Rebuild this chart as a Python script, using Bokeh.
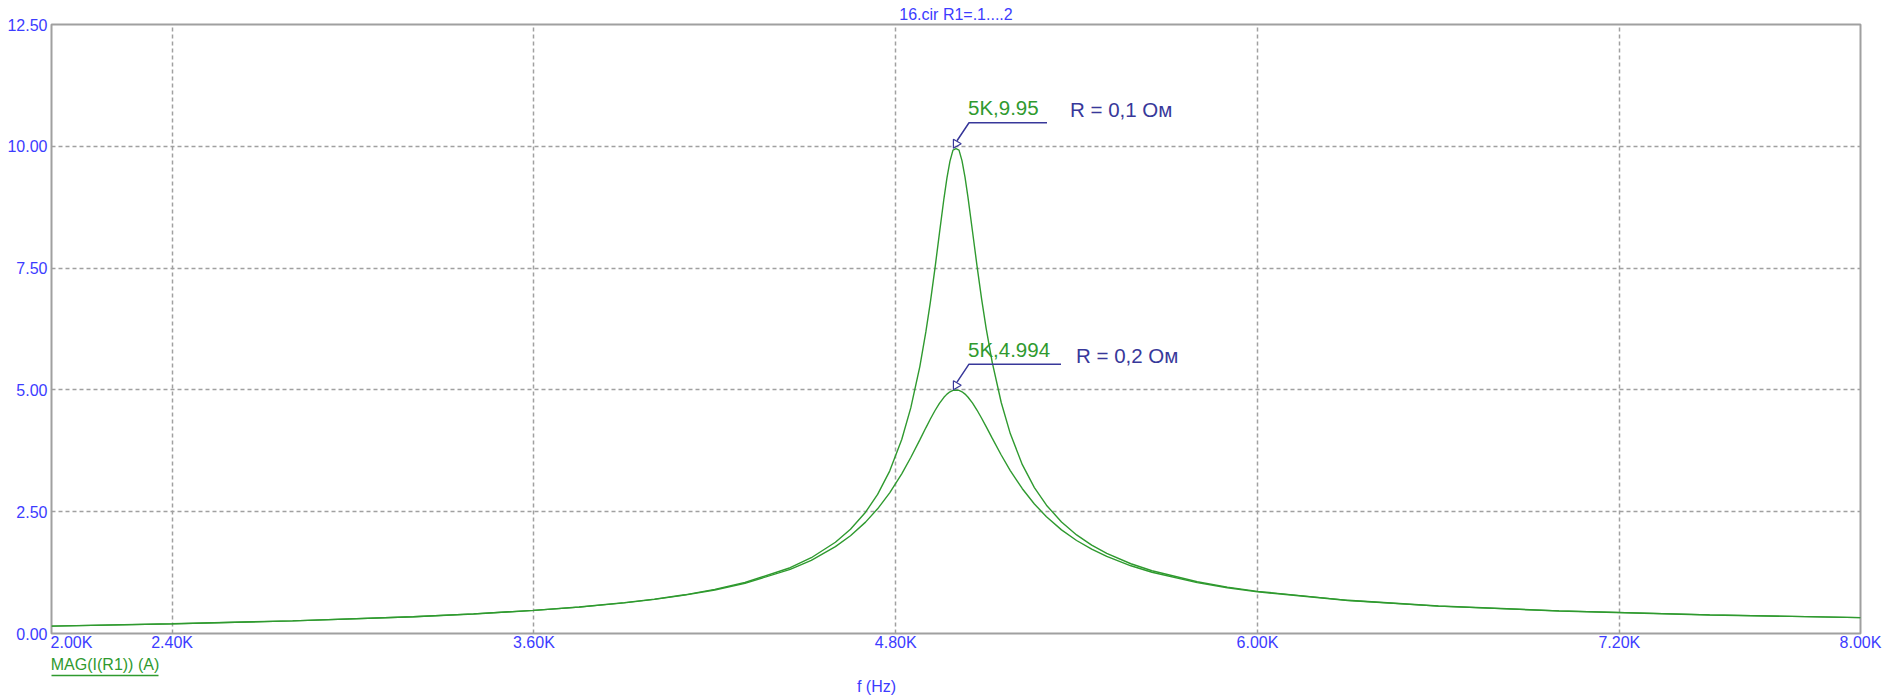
from bokeh.plotting import figure
from bokeh.models import Range1d, FixedTicker, Label, LinearAxis
from bokeh.embed import file_html
from bokeh.resources import INLINE

# ---------------- data ----------------
freq_hz = [2000, 2400, 2800, 3200, 3400, 3600, 3750, 3900, 4000, 4100,
           4200, 4300, 4450, 4520, 4600, 4650, 4700, 4740, 4780, 4820,
           4850, 4880, 4900, 4915, 4930, 4945, 4960, 4970, 4980, 4990,
           5000, 5010, 5020, 5030, 5040, 5055, 5070, 5085, 5100, 5120,
           5150, 5180, 5220, 5260, 5300, 5350, 5400, 5450, 5500, 5580,
           5650, 5800, 5900, 6000, 6300, 6600, 7000, 7500, 8000]
i_r01 = [0.152, 0.199, 0.260, 0.345, 0.402, 0.475, 0.545, 0.633, 0.706, 0.794,
         0.905, 1.046, 1.350, 1.555, 1.873, 2.140, 2.490, 2.855, 3.334, 3.981,
         4.631, 5.479, 6.189, 6.802, 7.485, 8.212, 8.928, 9.353, 9.697, 9.922,
         9.950, 9.922, 9.700, 9.361, 8.941, 8.241, 7.532, 6.864, 6.265, 5.572,
         4.741, 4.103, 3.466, 2.995, 2.633, 2.288, 2.023, 1.814, 1.645, 1.432,
         1.288, 1.062, 0.953, 0.865, 0.681, 0.565, 0.464, 0.382, 0.326]
i_r02 = [0.152, 0.198, 0.259, 0.344, 0.401, 0.474, 0.542, 0.629, 0.700, 0.787,
         0.894, 1.029, 1.315, 1.502, 1.782, 2.007, 2.286, 2.559, 2.887, 3.278,
         3.612, 3.974, 4.222, 4.402, 4.572, 4.723, 4.848, 4.913, 4.961, 4.990,
         4.994, 4.990, 4.961, 4.914, 4.850, 4.729, 4.582, 4.418, 4.246, 4.009,
         3.664, 3.345, 2.972, 2.658, 2.396, 2.127, 1.909, 1.731, 1.582, 1.390,
         1.257, 1.045, 0.940, 0.855, 0.676, 0.562, 0.462, 0.381, 0.326]

peak_freq = [5000, 5000]
peak_val = [9.95, 4.994]
peak_text = ["5K,9.95", "5K,4.994"]
r_text = ["R = 0,1 Ом", "R = 0,2 Ом"]

x_ticks = [2000, 2400, 3600, 4800, 6000, 7200, 8000]
x_tick_labels = ["2.00K", "2.40K", "3.60K", "4.80K", "6.00K", "7.20K", "8.00K"]
y_ticks = [0, 2.5, 5, 7.5, 10, 12.5]
y_tick_labels = ["0.00", "2.50", "5.00", "7.50", "10.00", "12.50"]

title_text = "16.cir R1=.1....2"
y_title = "MAG(I(R1)) (A)"
x_title = "f (Hz)"

# ---------------- style ----------------
FONT = "Liberation Sans"
BLUE = "#3c3cff"
GREEN = "#2f9a2f"
NAVY = "#38389a"
GRAY = "#a0a0a0"
FS = "16px"
NBSP = "\u00a0"

W, H = 1903, 699
ML, MR, MT, MB = 51, 43, 24, 66
FW, FH = W - ML - MR, H - MT - MB

p = figure(width=W, height=H, output_backend="svg", toolbar_location=None,
           x_range=Range1d(x_ticks[0], x_ticks[-1]),
           y_range=Range1d(y_ticks[0], y_ticks[-1]),
           min_border_left=ML, min_border_right=MR,
           min_border_top=MT, min_border_bottom=MB)
p.background_fill_color = "white"
p.border_fill_color = "white"
p.outline_line_color = GRAY
p.outline_line_width = 2

# title
p.title.text = title_text
p.title.align = "center"
p.title.text_font = FONT
p.title.text_font_size = FS
p.title.text_font_style = "normal"
p.title.text_color = BLUE
p.title.standoff = 4
p.title.offset = 0

px_x = (x_ticks[-1] - x_ticks[0]) / FW
px_y = (y_ticks[-1] - y_ticks[0]) / FH

# positions (screen px from the frame's left edge) of the two axis captions
Y_TITLE_CENTER_PX = 53.5
X_TITLE_CENTER_PX = 825
UNDERLINE_PX = 107


def quiet(ax):
    ax.axis_line_color = None
    ax.major_tick_line_color = None
    ax.minor_tick_line_color = None
    ax.major_tick_out = 0
    ax.major_tick_in = 0
    ax.minor_tick_out = 0
    ax.minor_tick_in = 0
    ax.major_label_text_font = FONT
    ax.major_label_text_font_size = FS


# tick-label axes
p.xaxis.ticker = FixedTicker(ticks=x_ticks)
overrides = {t: l for t, l in zip(x_ticks, x_tick_labels)}
overrides[x_ticks[0]] = NBSP * 9 + x_tick_labels[0]
p.xaxis.major_label_overrides = overrides
p.yaxis.ticker = FixedTicker(ticks=y_ticks)
p.yaxis.major_label_overrides = {t: l for t, l in zip(y_ticks, y_tick_labels)}
for ax in (p.xaxis, p.yaxis):
    quiet(ax)
    ax.major_label_text_color = BLUE
p.xaxis.major_label_standoff = 0
p.yaxis.major_label_standoff = 4

# caption row 1: series name (green, underlined)
y_pos = x_ticks[0] + Y_TITLE_CENTER_PX * px_x
ax_mag = LinearAxis(ticker=FixedTicker(ticks=[y_pos]),
                    major_label_overrides={y_pos: y_title})
quiet(ax_mag)
ax_mag.major_label_text_color = GREEN
ax_mag.major_label_standoff = 2
p.add_layout(ax_mag, "below")

# underline (axis rule only)
ax_ul = LinearAxis(ticker=FixedTicker(ticks=[]),
                   bounds=(x_ticks[0], x_ticks[0] + UNDERLINE_PX * px_x))
quiet(ax_ul)
ax_ul.axis_line_color = GREEN
ax_ul.axis_line_width = 1.5
ax_ul.major_label_standoff = 0
p.add_layout(ax_ul, "below")

# caption row 2: x variable
x_pos = x_ticks[0] + X_TITLE_CENTER_PX * px_x
ax_f = LinearAxis(ticker=FixedTicker(ticks=[x_pos]),
                  major_label_overrides={x_pos: x_title})
quiet(ax_f)
ax_f.major_label_text_color = BLUE
ax_f.major_label_standoff = 2
p.add_layout(ax_f, "below")

# grid
p.xgrid.ticker = FixedTicker(ticks=x_ticks[1:-1])
p.ygrid.ticker = FixedTicker(ticks=y_ticks[1:-1])
for g in (p.xgrid, p.ygrid):
    g.grid_line_color = GRAY
    g.grid_line_dash = "4 3"
    g.grid_line_width = 1.5

# curves
p.line(freq_hz, i_r01, line_color=GREEN, line_width=1.4)
p.line(freq_hz, i_r02, line_color=GREEN, line_width=1.4)

# peak markers + annotations
p.scatter(peak_freq, [v + 5 * px_y for v in peak_val], marker="triangle", size=9,
          angle=-1.5708, line_color=NAVY, fill_color=None, line_width=1.2)

leader_len = [91, 105]
r_dx = [114, 120]
r_dy = [39, 35]
for k in range(2):
    fx, fy = peak_freq[k], peak_val[k]
    xs = [fx + 1 * px_x, fx + 13 * px_x, fx + leader_len[k] * px_x]
    ys = [fy + 8 * px_y, fy + 26 * px_y, fy + 26 * px_y]
    p.line(xs, ys, line_color=NAVY, line_width=1.5)
    p.add_layout(Label(x=fx, y=fy, x_offset=12, y_offset=41, text=peak_text[k],
                       text_font=FONT, text_font_size="20.5px", text_color=GREEN,
                       text_baseline="alphabetic", text_align="left"))
    p.add_layout(Label(x=fx, y=fy, x_offset=r_dx[k], y_offset=r_dy[k], text=r_text[k],
                       text_font=FONT, text_font_size="20.5px", text_color=NAVY,
                       text_baseline="alphabetic", text_align="left"))

open("out.html", "w").write(file_html(p, INLINE))
